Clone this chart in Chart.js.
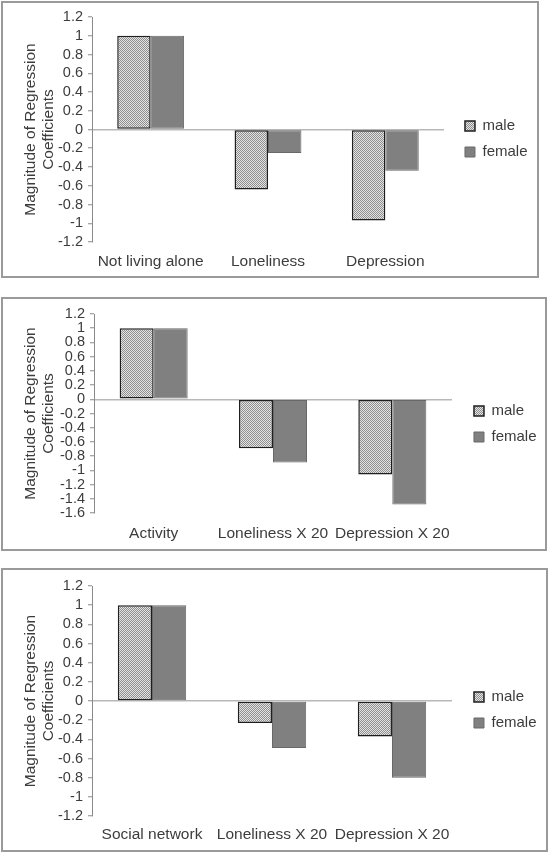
<!DOCTYPE html>
<html>
<head>
<meta charset="utf-8">
<script src="https://cdn.jsdelivr.net/npm/chart.js@4.4.1/dist/chart.umd.min.js"></script>
<style>
  body { margin: 0; background: #fff; width: 548px; height: 852px; position: relative; overflow: hidden; }
  .panel { position: absolute; left: 1px; border: 2px solid #9a9a9a; box-sizing: border-box; }
  .panel canvas { display: block; }
</style>
</head>
<body>
<div class="panel" style="top:1px;width:538px;height:277px"><canvas id="chart1" width="534" height="273"></canvas></div>
<div class="panel" style="top:297px;width:546px;height:254px"><canvas id="chart2" width="542" height="250"></canvas></div>
<div class="panel" style="top:568px;width:547px;height:284px"><canvas id="chart3" width="543" height="280"></canvas></div>
<script>
// Panel 1
const categories1 = ["Not living alone", "Loneliness", "Depression"];
const male1 = [1, -0.64, -0.97];
const female1 = [1, -0.25, -0.44];
const yTicks1 = [1.2, 1, 0.8, 0.6, 0.4, 0.2, 0, -0.2, -0.4, -0.6, -0.8, -1, -1.2];

// Panel 2
const categories2 = ["Activity", "Loneliness X 20", "Depression X 20"];
const male2 = [1, -0.69, -1.06];
const female2 = [1, -0.89, -1.48];
const yTicks2 = [1.2, 1, 0.8, 0.6, 0.4, 0.2, 0, -0.2, -0.4, -0.6, -0.8, -1, -1.2, -1.4, -1.6];

// Panel 3
const categories3 = ["Social network", "Loneliness X 20", "Depression X 20"];
const male3 = [1, -0.23, -0.37];
const female3 = [1, -0.49, -0.8];
const yTicks3 = [1.2, 1, 0.8, 0.6, 0.4, 0.2, 0, -0.2, -0.4, -0.6, -0.8, -1, -1.2];

const yTitle = ["Magnitude of Regression", "Coefficients"];
const textColor = "#3c3c3c";
const family = "'Liberation Sans', Arial, sans-serif";

// stippled fill like the excel "dotted" pattern
function dotPattern() {
  const c = document.createElement("canvas");
  c.width = 2;
  c.height = 2;
  const g = c.getContext("2d");
  g.fillStyle = "#e4e4e4";
  g.fillRect(0, 0, 2, 2);
  g.fillStyle = "#8e8e8e";
  g.fillRect(0, 0, 1, 1);
  g.fillRect(1, 1, 1, 1);
  return g.createPattern(c, "repeat");
}
const dots = dotPattern();

// move the legend a bit away from the plot, the way the original sits
const legendShift = {
  id: "legendShift",
  afterLayout(chart, args, opts) {
    const lg = chart.legend;
    lg.left += opts.dx;
    lg.right += opts.dx;
    lg.top += opts.dy;
    lg.bottom += opts.dy;
  },
};

function makeChart(id, labels, male, female, yTicks, box) {
  const ctx = document.getElementById(id).getContext("2d");
  return new Chart(ctx, {
    type: "bar",
    data: {
      labels: labels,
      datasets: [
        { label: "male", data: male, backgroundColor: dots, borderColor: "#1e1e1e", borderWidth: 1.5, borderSkipped: false },
        { label: "female", data: female, backgroundColor: "#808080", borderColor: "#686868", borderWidth: 1, borderSkipped: false },
      ],
    },
    options: {
      responsive: false,
      animation: false,
      datasets: { bar: { categoryPercentage: 0.57, barPercentage: 1 } },
      layout: { padding: { top: box.top, right: box.right, left: 0, bottom: 0 } },
      scales: {
        x: {
          grid: { display: false },
          border: { display: false },
          ticks: { maxRotation: 0, padding: box.labelPad, color: textColor, font: { family: family, size: 15.5 } },
          afterFit: (s) => { s.height = box.xHeight; },
        },
        y: {
          min: yTicks[yTicks.length - 1],
          max: yTicks[0],
          afterBuildTicks: (axis) => { axis.ticks = yTicks.map((v) => ({ value: v })); },
          ticks: { autoSkip: false, padding: 5, color: textColor, font: { family: family, size: 14.5 }, callback: (v) => String(v) },
          grid: {
            color: (c) => (c.tick && c.tick.value === 0 ? "#b8b8b8" : "rgba(0,0,0,0)"),
            lineWidth: 1.5,
            tickColor: "#8a8a8a",
            tickWidth: 1,
            tickLength: 4,
          },
          border: { color: "#8a8a8a", width: 1 },
          title: { display: true, text: yTitle, color: textColor, font: { family: family, size: 15.5 }, padding: { top: 18, bottom: 0 } },
          afterFit: (s) => { s.width = box.yWidth; },
        },
      },
      plugins: {
        legend: {
          position: "right",
          labels: { boxWidth: 10, boxHeight: 10, padding: 11, color: textColor, font: { family: family, size: 15 } },
        },
        legendShift: { dx: box.dx, dy: box.dy },
        tooltip: { enabled: false },
      },
    },
    plugins: [legendShift],
  });
}

makeChart("chart1", categories1, male1, female1, yTicks1, { top: 14, right: 9.5, yWidth: 89, xHeight: 34, labelPad: 2, dx: 10, dy: -7.5 });
makeChart("chart2", categories2, male2, female2, yTicks2, { top: 15, right: 9.5, yWidth: 91, xHeight: 36, labelPad: 3, dx: 11, dy: -7.5 });
makeChart("chart3", categories3, male3, female3, yTicks3, { top: 16, right: 10.5, yWidth: 89, xHeight: 34, labelPad: 1, dx: 11, dy: -8 });
</script>
</body>
</html>
